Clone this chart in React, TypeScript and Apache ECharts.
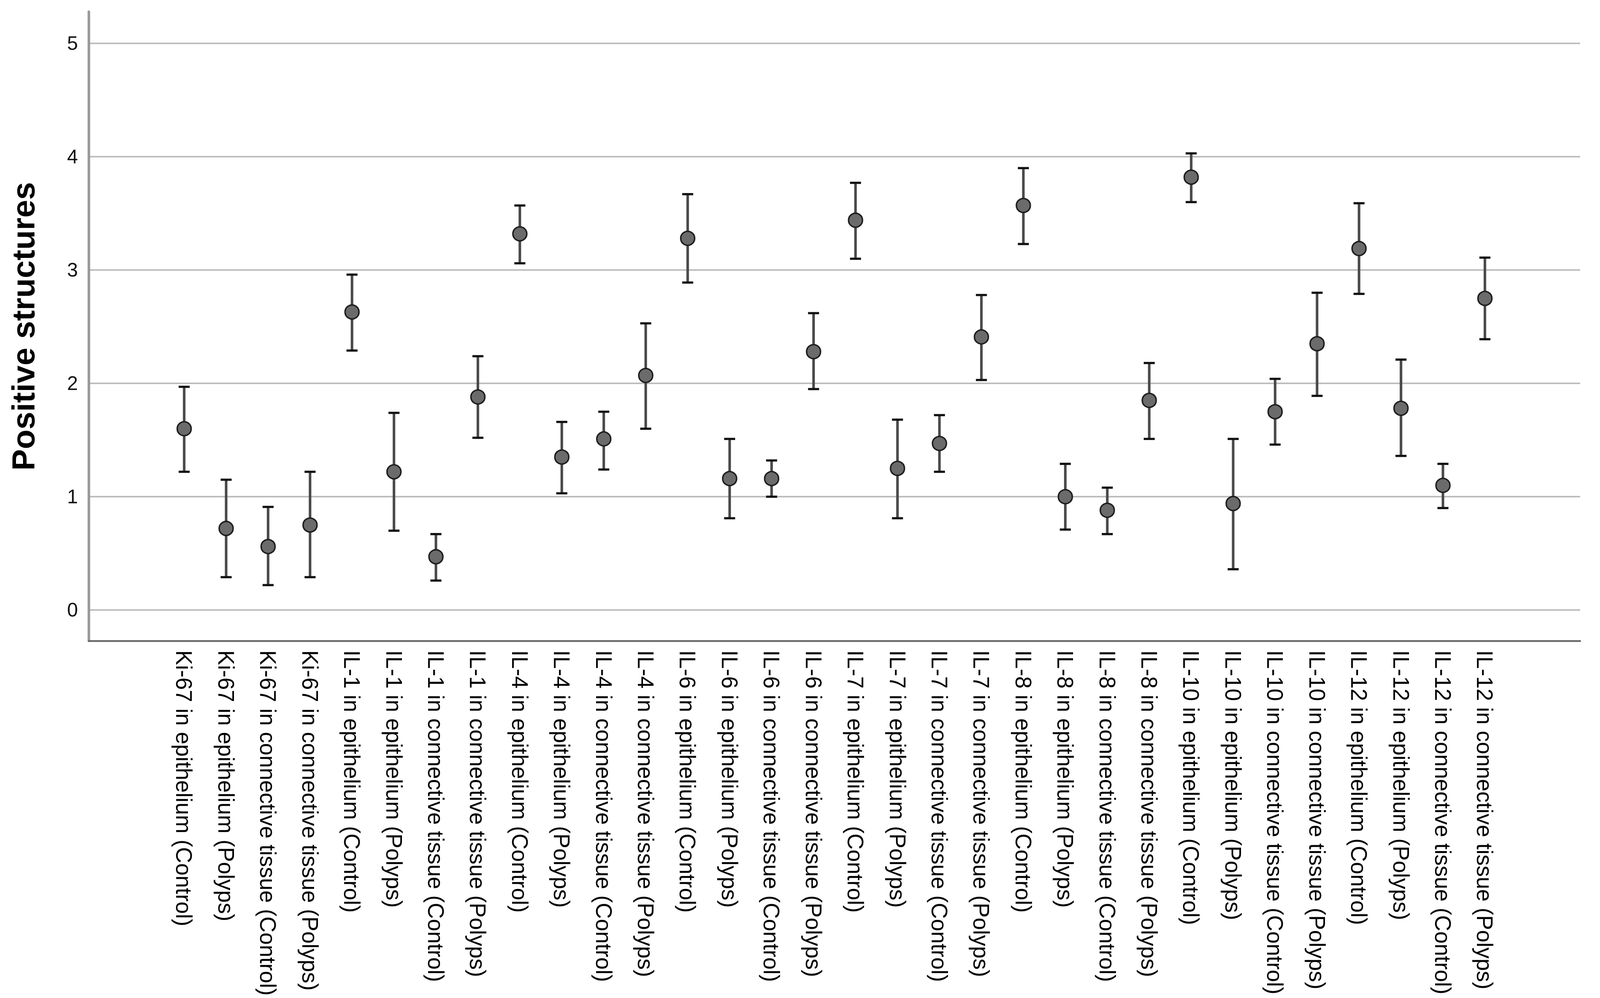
import React, { useEffect, useRef } from "react";
import * as echarts from "echarts";

const categories = [
  "Ki-67 in epithelium (Control)",
  "Ki-67 in epithelium (Polyps)",
  "Ki-67 in connective tissue (Control)",
  "Ki-67 in connective tissue (Polyps)",
  "IL-1 in epithelium (Control)",
  "IL-1 in epithelium (Polyps)",
  "IL-1 in connective tissue (Control)",
  "IL-1 in connective tissue (Polyps)",
  "IL-4 in epithelium (Control)",
  "IL-4 in epithelium (Polyps)",
  "IL-4 in connective tissue (Control)",
  "IL-4 in connective tissue (Polyps)",
  "IL-6 in epithelium (Control)",
  "IL-6 in epithelium (Polyps)",
  "IL-6 in connective tissue (Control)",
  "IL-6 in connective tissue (Polyps)",
  "IL-7 in epithelium (Control)",
  "IL-7 in epithelium (Polyps)",
  "IL-7 in connective tissue (Control)",
  "IL-7 in connective tissue (Polyps)",
  "IL-8 in epithelium (Control)",
  "IL-8 in epithelium (Polyps)",
  "IL-8 in connective tissue (Control)",
  "IL-8 in connective tissue (Polyps)",
  "IL-10 in epithelium (Control)",
  "IL-10 in epithelium (Polyps)",
  "IL-10 in connective tissue (Control)",
  "IL-10 in connective tissue (Polyps)",
  "IL-12 in epithelium (Control)",
  "IL-12 in epithelium (Polyps)",
  "IL-12 in connective tissue (Control)",
  "IL-12 in connective tissue (Polyps)",
];

const means = [
  1.6, 0.72, 0.56, 0.75, 2.63, 1.22, 0.47, 1.88,
  3.32, 1.35, 1.51, 2.07, 3.28, 1.16, 1.16, 2.28,
  3.44, 1.25, 1.47, 2.41, 3.57, 1.0, 0.88, 1.85,
  3.82, 0.94, 1.75, 2.35, 3.19, 1.78, 1.1, 2.75,
];

const upper = [
  1.97, 1.15, 0.91, 1.22, 2.96, 1.74, 0.67, 2.24,
  3.57, 1.66, 1.75, 2.53, 3.67, 1.51, 1.32, 2.62,
  3.77, 1.68, 1.72, 2.78, 3.9, 1.29, 1.08, 2.18,
  4.03, 1.51, 2.04, 2.8, 3.59, 2.21, 1.29, 3.11,
];

const lower = [
  1.22, 0.29, 0.22, 0.29, 2.29, 0.7, 0.26, 1.52,
  3.06, 1.03, 1.24, 1.6, 2.89, 0.81, 1.0, 1.95,
  3.1, 0.81, 1.22, 2.03, 3.23, 0.71, 0.67, 1.51,
  3.6, 0.36, 1.46, 1.89, 2.79, 1.36, 0.9, 2.39,
];

const yTicks = [0, 1, 2, 3, 4, 5];
const yTitle = "Positive structures";

const FONT = "'Liberation Sans', Arial, Helvetica, sans-serif";
const REF_W = 4354;
const REF_H = 2554;

export default function App() {
  const ref = useRef<HTMLDivElement>(null);

  useEffect(() => {
    const el = ref.current;
    if (!el) return;
    const w = el.clientWidth || window.innerWidth || REF_W;
    const h = el.clientHeight || window.innerHeight || REF_H;
    const sx = w / REF_W;
    const sy = h / REF_H;
    const s = Math.min(sx, sy);

    const chart = echarts.init(el, undefined, { renderer: "svg" });
    const xIdx = categories.map((_, i) => i);

    const option: any = {
      animation: false,
      backgroundColor: "#ffffff",
      grid: {
        left: 242 * sx,
        right: 54 * sx,
        top: 30 * sy,
        bottom: 914 * sy,
        containLabel: false,
        outerBoundsMode: "none",
      },
      xAxis: {
        type: "value",
        min: -2.27,
        max: 33.27,
        axisLine: {
          show: true,
          onZero: false,
          lineStyle: { color: "#666666", width: 5 * s },
        },
        axisTick: { show: false, customValues: xIdx },
        splitLine: { show: false },
        axisLabel: {
          show: true,
          customValues: xIdx,
          rotate: -90,
          margin: 24 * sy,
          fontSize: 57 * sy,
          fontFamily: FONT,
          color: "#000000",
          formatter: (v: number) => categories[Math.round(v)] ?? "",
        },
      },
      yAxis: {
        type: "value",
        min: -0.272,
        max: 5.28,
        name: yTitle,
        nameLocation: "middle",
        nameGap: 135 * sx,
        nameRotate: 90,
        nameTextStyle: {
          fontSize: 82 * sy,
          fontWeight: "bold",
          fontFamily: FONT,
          color: "#000000",
        },
        axisLine: {
          show: true,
          onZero: false,
          lineStyle: { color: "#999999", width: 7 * s },
        },
        axisTick: { show: false, customValues: yTicks },
        splitLine: {
          show: true,
          lineStyle: { color: "#bdbdbd", width: 4 * s },
        },
        axisLabel: {
          show: true,
          customValues: yTicks,
          margin: 30 * sx,
          fontSize: 53 * s,
          fontFamily: FONT,
          color: "#111111",
        },
      },
      series: [
        {
          type: "custom",
          z: 2,
          data: categories.map((_, i) => [i, lower[i], upper[i]]),
          encode: { x: 0, y: [1, 2] },
          renderItem: (_params: any, api: any) => {
            const i = api.value(0);
            const pLo = api.coord([i, api.value(1)]);
            const pHi = api.coord([i, api.value(2)]);
            const cw = 15 * s;
            return {
              type: "group",
              children: [
                {
                  type: "line",
                  shape: { x1: pHi[0], y1: pHi[1], x2: pLo[0], y2: pLo[1] },
                  style: { stroke: "#4a4a4a", lineWidth: 7 * s },
                },
                {
                  type: "line",
                  shape: { x1: pHi[0] - cw, y1: pHi[1], x2: pHi[0] + cw, y2: pHi[1] },
                  style: { stroke: "#111111", lineWidth: 6 * s },
                },
                {
                  type: "line",
                  shape: { x1: pLo[0] - cw, y1: pLo[1], x2: pLo[0] + cw, y2: pLo[1] },
                  style: { stroke: "#111111", lineWidth: 6 * s },
                },
              ],
            };
          },
        },
        {
          type: "scatter",
          z: 3,
          symbol: "circle",
          symbolSize: 38 * s,
          data: means.map((m, i) => [i, m]),
          itemStyle: {
            color: "#6b6b6b",
            borderColor: "#1e1e1e",
            borderWidth: 4 * s,
            opacity: 1,
          },
        },
      ],
    };

    chart.setOption(option);
    return () => {
      chart.dispose();
    };
  }, []);

  return (
    <div
      ref={ref}
      style={{
        position: "fixed",
        left: 0,
        top: 0,
        width: "100vw",
        height: "100vh",
        background: "#ffffff",
      }}
    />
  );
}
